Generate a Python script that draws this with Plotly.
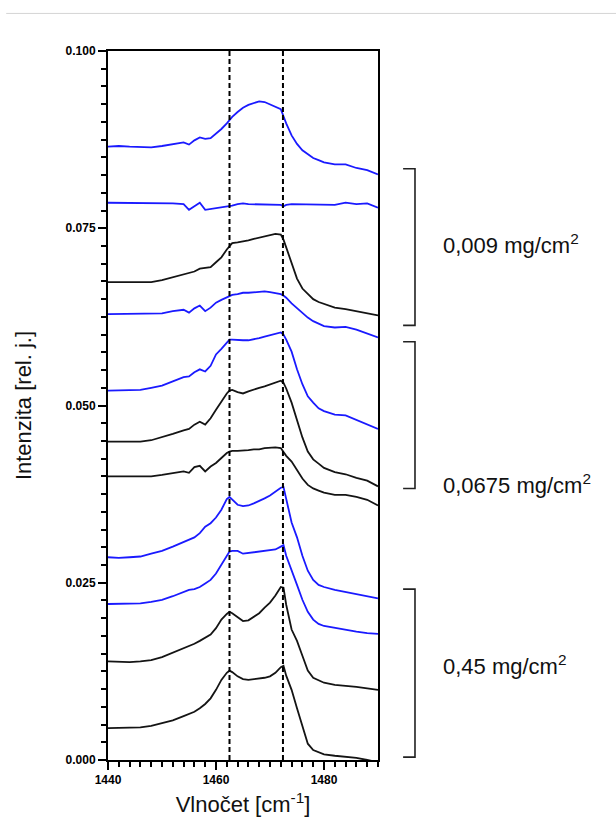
import plotly.graph_objects as go

# Wavenumber grid shared by all spectra (cm^-1)
wavenumber = [1440, 1442, 1444, 1446, 1448, 1450, 1452, 1454, 1455, 1456, 1457, 1458, 1459,
              1460, 1461, 1462, 1462.5, 1463, 1464, 1465, 1466, 1467, 1468, 1469, 1470, 1471,
              1472, 1472.5, 1473, 1474, 1475, 1476, 1477, 1478, 1479, 1480, 1482, 1484, 1486,
              1488, 1490]

# Stacked spectra, top to bottom
spec_a = [0.0865, 0.0866, 0.0865, 0.0864, 0.0864, 0.0866, 0.0868, 0.0871, 0.0868, 0.0874, 0.0878,
          0.0876, 0.0877, 0.0883, 0.0890, 0.0898, 0.0903, 0.0907, 0.0914, 0.0920, 0.0924, 0.0927,
          0.0929, 0.0928, 0.0925, 0.0922, 0.0918, 0.0908, 0.0898, 0.0881, 0.0869, 0.0860, 0.0854,
          0.0849, 0.0846, 0.0843, 0.0840, 0.0840, 0.0835, 0.0832, 0.0826]
spec_b = [0.0786, 0.0786, 0.0785, 0.0785, 0.0785, 0.0785, 0.0785, 0.0784, 0.0776, 0.0781, 0.0786,
          0.0776, 0.0777, 0.0779, 0.0780, 0.0780, 0.0781, 0.0782, 0.0784, 0.0785, 0.0784, 0.0784,
          0.0784, 0.0784, 0.0784, 0.0784, 0.0783, 0.0781, 0.0783, 0.0784, 0.0784, 0.0784, 0.0784,
          0.0784, 0.0783, 0.0783, 0.0783, 0.0786, 0.0784, 0.0785, 0.0779]
spec_c = [0.0674, 0.0674, 0.0674, 0.0674, 0.0674, 0.0677, 0.0681, 0.0684, 0.0686, 0.0689, 0.0693,
          0.0694, 0.0695, 0.0702, 0.0709, 0.0720, 0.0725, 0.0729, 0.0730, 0.0731, 0.0733, 0.0735,
          0.0737, 0.0739, 0.0740, 0.0742, 0.0741, 0.0734, 0.0723, 0.0701, 0.0679, 0.0665, 0.0657,
          0.0650, 0.0646, 0.0643, 0.0638, 0.0636, 0.0633, 0.0630, 0.0627]
spec_d = [0.0629, 0.0629, 0.0629, 0.0629, 0.0629, 0.0630, 0.0633, 0.0635, 0.0631, 0.0637, 0.0641,
          0.0633, 0.0638, 0.0645, 0.0649, 0.0653, 0.0655, 0.0656, 0.0657, 0.0659, 0.0659, 0.0660,
          0.0661, 0.0661, 0.0660, 0.0659, 0.0657, 0.0655, 0.0652, 0.0644, 0.0637, 0.0630, 0.0624,
          0.0619, 0.0615, 0.0612, 0.0610, 0.0611, 0.0607, 0.0602, 0.0596]
spec_e = [0.0521, 0.0521, 0.0521, 0.0522, 0.0525, 0.0528, 0.0534, 0.0540, 0.0541, 0.0547, 0.0551,
          0.0548, 0.0556, 0.0572, 0.0580, 0.0589, 0.0593, 0.0593, 0.0592, 0.0592, 0.0592, 0.0593,
          0.0595, 0.0597, 0.0599, 0.0602, 0.0603, 0.0600, 0.0593, 0.0576, 0.0551, 0.0530, 0.0513,
          0.0504, 0.0496, 0.0492, 0.0487, 0.0486, 0.0480, 0.0474, 0.0467]
spec_f = [0.0449, 0.0449, 0.0449, 0.0449, 0.0451, 0.0455, 0.0460, 0.0465, 0.0467, 0.0473, 0.0477,
          0.0473, 0.0482, 0.0494, 0.0506, 0.0517, 0.0521, 0.0522, 0.0519, 0.0517, 0.0520, 0.0523,
          0.0525, 0.0527, 0.0530, 0.0532, 0.0535, 0.0532, 0.0524, 0.0504, 0.0480, 0.0455, 0.0435,
          0.0424, 0.0418, 0.0412, 0.0406, 0.0403, 0.0398, 0.0394, 0.0386]
spec_g = [0.0400, 0.0400, 0.0400, 0.0400, 0.0400, 0.0402, 0.0404, 0.0407, 0.0405, 0.0413, 0.0415,
          0.0407, 0.0414, 0.0419, 0.0426, 0.0433, 0.0435, 0.0436, 0.0436, 0.0436, 0.0437, 0.0438,
          0.0438, 0.0440, 0.0441, 0.0441, 0.0440, 0.0435, 0.0429, 0.0421, 0.0408, 0.0397, 0.0388,
          0.0383, 0.0380, 0.0377, 0.0374, 0.0374, 0.0371, 0.0367, 0.0359]
spec_h = [0.0286, 0.0285, 0.0286, 0.0287, 0.0291, 0.0295, 0.0301, 0.0308, 0.0311, 0.0314, 0.0320,
          0.0329, 0.0334, 0.0342, 0.0353, 0.0368, 0.0371, 0.0367, 0.0360, 0.0358, 0.0359, 0.0362,
          0.0365, 0.0369, 0.0373, 0.0379, 0.0384, 0.0385, 0.0367, 0.0335, 0.0314, 0.0288, 0.0267,
          0.0254, 0.0247, 0.0244, 0.0240, 0.0237, 0.0234, 0.0231, 0.0228]
spec_i = [0.0220, 0.0220, 0.0221, 0.0221, 0.0223, 0.0226, 0.0231, 0.0237, 0.0240, 0.0241, 0.0244,
          0.0249, 0.0254, 0.0263, 0.0275, 0.0288, 0.0294, 0.0295, 0.0295, 0.0291, 0.0292, 0.0293,
          0.0294, 0.0294, 0.0295, 0.0297, 0.0301, 0.0303, 0.0288, 0.0266, 0.0247, 0.0226, 0.0209,
          0.0198, 0.0192, 0.0189, 0.0186, 0.0183, 0.0181, 0.0179, 0.0178]
spec_j = [0.0139, 0.0138, 0.0138, 0.0139, 0.0141, 0.0145, 0.0151, 0.0157, 0.0160, 0.0164, 0.0168,
          0.0172, 0.0177, 0.0186, 0.0198, 0.0206, 0.0209, 0.0207, 0.0201, 0.0196, 0.0197, 0.0202,
          0.0207, 0.0215, 0.0222, 0.0232, 0.0244, 0.0243, 0.0219, 0.0184, 0.0168, 0.0147, 0.0126,
          0.0116, 0.0112, 0.0109, 0.0106, 0.0105, 0.0103, 0.0101, 0.0099]
spec_k = [0.0045, 0.0045, 0.0045, 0.0046, 0.0048, 0.0052, 0.0056, 0.0062, 0.0065, 0.0068, 0.0073,
          0.0079, 0.0087, 0.0099, 0.0113, 0.0123, 0.0126, 0.0124, 0.0118, 0.0114, 0.0113, 0.0114,
          0.0114, 0.0116, 0.0118, 0.0123, 0.0131, 0.0133, 0.0119, 0.0099, 0.0073, 0.0048, 0.0023,
          0.0014, 0.0011, 0.0008, 0.0006, 0.0005, 0.0003, 0.0000, -0.0003]

spectra = [spec_a, spec_b, spec_c, spec_d, spec_e, spec_f, spec_g, spec_h, spec_i, spec_j, spec_k]
spectrum_colors = ["blue", "blue", "black", "blue", "blue", "black", "black",
                   "blue", "blue", "black", "black"]

# Reference band positions (dashed guides)
band_positions = [1462.5, 1472.4]

# Concentration groups: label, bracket top / bottom and label height (paper fractions)
group_labels = ["0,009 mg/cm<sup>2</sup>", "0,0675 mg/cm<sup>2</sup>", "0,45 mg/cm<sup>2</sup>"]
group_top = [0.834, 0.590, 0.241]
group_bottom = [0.613, 0.383, 0.004]
group_text_y = [0.728, 0.389, 0.134]

COLOR_MAP = {"blue": "#1a1aff", "black": "#141414"}

fig = go.Figure()

for ys, c in zip(spectra, spectrum_colors):
    fig.add_trace(go.Scatter(
        x=wavenumber, y=ys, mode="lines",
        line=dict(color=COLOR_MAP[c], width=1.8),
        showlegend=False, hoverinfo="skip",
    ))

for b in band_positions:
    fig.add_shape(type="line", xref="x", yref="paper", x0=b, x1=b, y0=0, y1=1,
                  line=dict(color="black", width=2, dash="5px,3px"), layer="above")

# Group brackets on the right of the plot
bx0, bx1 = 1.093, 1.137
for top, bot in zip(group_top, group_bottom):
    fig.add_shape(type="path", xref="paper", yref="paper",
                  path=f"M {bx0},{top} L {bx1},{top} L {bx1},{bot} L {bx0},{bot}",
                  line=dict(color="#222222", width=1.6))

for txt, ty in zip(group_labels, group_text_y):
    fig.add_annotation(x=1.234, y=ty, xref="paper", yref="paper", text=txt,
                       showarrow=False, xanchor="left", yanchor="middle",
                       font=dict(family="Liberation Sans, Arial", size=22, color="#111111"))

# Thin separator line across the top of the page
fig.add_shape(type="line", xref="paper", yref="paper", x0=-0.377, x1=1.9, y0=1.053, y1=1.053,
              line=dict(color="#d4d4d4", width=1))

tick_font = dict(family="Liberation Sans, Arial", size=12, color="black", weight="bold")

fig.update_xaxes(
    range=[1440, 1490], tickvals=[1440, 1460, 1480], ticks="outside", ticklen=8, tickwidth=2,
    tickcolor="black", showline=True, linecolor="black", linewidth=2, mirror=True,
    showgrid=False, zeroline=False, tickfont=tick_font,
    minor=dict(dtick=2, tick0=1440, ticks="outside", ticklen=5, tickwidth=1.6, tickcolor="black"),
    title=dict(text="Vlnočet [cm<sup>-1</sup>]", standoff=10,
               font=dict(family="Liberation Sans, Arial", size=22, color="#111111")),
)
fig.update_yaxes(
    range=[0, 0.1], tickvals=[0, 0.025, 0.05, 0.075, 0.1], tickformat=".3f",
    ticks="outside", ticklen=8, tickwidth=2, tickcolor="black",
    showline=True, linecolor="black", linewidth=2, mirror=True,
    showgrid=False, zeroline=False, tickfont=tick_font,
    minor=dict(dtick=0.0025, tick0=0, ticks="outside", ticklen=5, tickwidth=1.6, tickcolor="black"),
    title=dict(text="Intenzita [rel. j.]", standoff=28,
               font=dict(family="Liberation Sans, Arial", size=22, color="#111111")),
)

fig.update_layout(
    width=616, height=836,
    margin=dict(l=108, r=238, t=51, b=76),
    paper_bgcolor="white", plot_bgcolor="white",
    showlegend=False,
)

fig.write_html("out.html")
